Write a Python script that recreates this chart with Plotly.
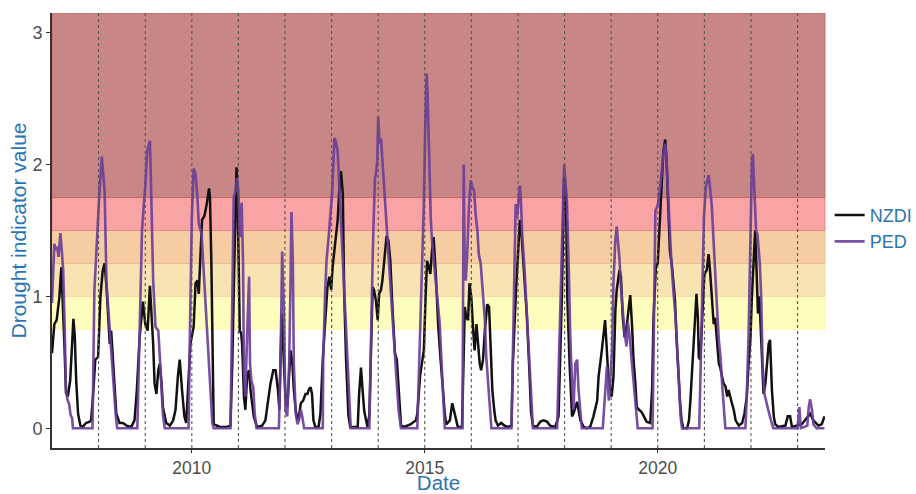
import numpy as np
import pandas as pd
import plotly.graph_objects as go

# ---------------- data (decimal years, indicator values) ----------------
nzdi_time = [
    2007.00, 2007.03, 2007.05, 2007.10, 2007.16, 2007.20, 2007.23, 2007.27, 2007.30, 2007.34,
    2007.39, 2007.43, 2007.46, 2007.49, 2007.52, 2007.56, 2007.61, 2007.66, 2007.73, 2007.81,
    2007.84, 2007.88, 2007.93, 2007.99, 2008.04, 2008.09, 2008.13, 2008.17, 2008.20, 2008.24,
    2008.27, 2008.31, 2008.38, 2008.45, 2008.52, 2008.60, 2008.70, 2008.77, 2008.82, 2008.88,
    2008.95, 2009.00, 2009.05, 2009.10, 2009.13, 2009.17, 2009.20, 2009.24, 2009.28, 2009.31,
    2009.35, 2009.38, 2009.45, 2009.53, 2009.60, 2009.65, 2009.70, 2009.74, 2009.79, 2009.84,
    2009.88, 2009.93, 2009.97, 2010.04, 2010.08, 2010.12, 2010.15, 2010.19, 2010.22, 2010.27,
    2010.32, 2010.37, 2010.39, 2010.42, 2010.44, 2010.47, 2010.60, 2010.75, 2010.83, 2010.87,
    2010.91, 2010.96, 2010.99, 2011.03, 2011.06, 2011.08, 2011.12, 2011.15, 2011.19, 2011.23,
    2011.26, 2011.30, 2011.33, 2011.40, 2011.51, 2011.58, 2011.63, 2011.69, 2011.75, 2011.80,
    2011.85, 2011.88, 2011.93, 2011.96, 2012.01, 2012.05, 2012.09, 2012.12, 2012.16, 2012.19,
    2012.23, 2012.27, 2012.30, 2012.34, 2012.39, 2012.44, 2012.48, 2012.52, 2012.55, 2012.58,
    2012.61, 2012.65, 2012.72, 2012.76, 2012.81, 2012.86, 2012.91, 2012.95, 2012.99, 2013.02,
    2013.08, 2013.13, 2013.16, 2013.20, 2013.24, 2013.27, 2013.31, 2013.36, 2013.40, 2013.56,
    2013.59, 2013.63, 2013.66, 2013.70, 2013.74, 2013.77, 2013.81, 2013.85, 2013.88, 2013.91,
    2013.95, 2013.99, 2014.02, 2014.06, 2014.09, 2014.13, 2014.18, 2014.22, 2014.26, 2014.31,
    2014.36, 2014.40, 2014.44, 2014.49, 2014.56, 2014.63, 2014.70, 2014.77, 2014.81, 2014.84,
    2014.90, 2014.95, 2014.98, 2015.02, 2015.05, 2015.09, 2015.12, 2015.16, 2015.19, 2015.24,
    2015.29, 2015.34, 2015.39, 2015.43, 2015.46, 2015.54, 2015.59, 2015.64, 2015.71, 2015.80,
    2015.84, 2015.86, 2015.89, 2015.93, 2015.96, 2016.00, 2016.04, 2016.07, 2016.11, 2016.14,
    2016.18, 2016.21, 2016.25, 2016.29, 2016.34, 2016.38, 2016.41, 2016.45, 2016.49, 2016.52,
    2016.57, 2016.64, 2016.71, 2016.79, 2016.86, 2016.89, 2016.96, 2017.00, 2017.04, 2017.07,
    2017.11, 2017.14, 2017.19, 2017.24, 2017.28, 2017.32, 2017.40, 2017.48, 2017.55, 2017.62,
    2017.69, 2017.80, 2017.87, 2017.94, 2017.99, 2018.03, 2018.06, 2018.11, 2018.16, 2018.19,
    2018.23, 2018.27, 2018.30, 2018.34, 2018.41, 2018.48, 2018.55, 2018.62, 2018.70, 2018.73,
    2018.80, 2018.87, 2018.90, 2018.94, 2018.98, 2019.01, 2019.05, 2019.09, 2019.12, 2019.18,
    2019.21, 2019.25, 2019.29, 2019.34, 2019.38, 2019.41, 2019.45, 2019.48, 2019.52, 2019.55,
    2019.60, 2019.66, 2019.76, 2019.84, 2019.88, 2019.91, 2019.96, 2020.00, 2020.04, 2020.09,
    2020.12, 2020.16, 2020.19, 2020.23, 2020.26, 2020.30, 2020.34, 2020.37, 2020.41, 2020.44,
    2020.48, 2020.51, 2020.55, 2020.63, 2020.67, 2020.70, 2020.74, 2020.77, 2020.81, 2020.83,
    2020.86, 2020.88, 2020.91, 2020.95, 2021.00, 2021.05, 2021.09, 2021.12, 2021.16, 2021.20,
    2021.23, 2021.27, 2021.31, 2021.34, 2021.38, 2021.41, 2021.45, 2021.49, 2021.52, 2021.56,
    2021.59, 2021.63, 2021.67, 2021.74, 2021.81, 2021.86, 2021.91, 2021.95, 2021.99, 2022.02,
    2022.06, 2022.09, 2022.12, 2022.15, 2022.18, 2022.21, 2022.27, 2022.31, 2022.34, 2022.38,
    2022.41, 2022.45, 2022.49, 2022.52, 2022.59, 2022.74, 2022.79, 2022.84, 2022.88, 2022.99,
    2023.09, 2023.16, 2023.27, 2023.34, 2023.45, 2023.52, 2023.58,
]
nzdi_value = [
    0.57, 0.72, 0.79, 0.82, 1.00, 1.22, 1.00, 0.60, 0.27, 0.24,
    0.36, 0.69, 0.83, 0.69, 0.36, 0.11, 0.02, 0.01, 0.04, 0.05,
    0.06, 0.24, 0.52, 0.54, 1.00, 1.20, 1.25, 1.07, 0.87, 0.64,
    0.74, 0.49, 0.11, 0.04, 0.04, 0.02, 0.01, 0.06, 0.29, 0.69,
    0.96, 0.79, 0.74, 1.08, 0.89, 0.64, 0.34, 0.26, 0.44, 0.49,
    0.34, 0.16, 0.04, 0.02, 0.06, 0.14, 0.39, 0.52, 0.29, 0.09,
    0.04, 0.40, 0.64, 0.77, 1.10, 1.12, 1.02, 1.35, 1.58, 1.61,
    1.70, 1.82, 1.75, 1.25, 0.74, 0.03, 0.01, 0.01, 0.02, 0.50,
    1.20, 1.98, 1.60, 0.74, 0.72, 0.64, 0.24, 0.14, 0.41, 0.44,
    0.29, 0.16, 0.09, 0.01, 0.02, 0.06, 0.19, 0.34, 0.44, 0.44,
    0.29, 0.14, 0.87, 0.60, 0.24, 0.16, 0.44, 0.59, 0.49, 0.29,
    0.14, 0.06, 0.09, 0.19, 0.21, 0.26, 0.26, 0.30, 0.31, 0.26,
    0.06, 0.01, 0.01, 0.11, 0.52, 0.77, 1.07, 1.15, 1.05, 1.22,
    1.42, 1.58, 1.78, 1.95, 1.78, 1.02, 0.52, 0.10, 0.01, 0.01,
    0.26, 0.46, 0.31, 0.13, 0.06, 0.01, 0.10, 0.60, 1.07, 1.05,
    0.97, 0.82, 1.02, 1.05, 1.12, 1.27, 1.46, 1.42, 1.27, 0.89,
    0.57, 0.52, 0.26, 0.02, 0.01, 0.02, 0.03, 0.05, 0.06, 0.11,
    0.40, 0.52, 0.59, 1.02, 1.27, 1.22, 1.17, 1.37, 1.45, 1.15,
    0.77, 0.52, 0.26, 0.11, 0.03, 0.06, 0.19, 0.12, 0.01, 0.01,
    0.50, 0.92, 0.84, 0.82, 1.10, 0.99, 0.74, 0.59, 0.79, 0.64,
    0.49, 0.44, 0.52, 0.74, 0.94, 0.92, 0.62, 0.29, 0.14, 0.06,
    0.02, 0.04, 0.02, 0.01, 0.02, 0.49, 1.07, 1.37, 1.58, 1.50,
    1.30, 1.15, 0.85, 0.47, 0.12, 0.02, 0.01, 0.05, 0.06, 0.05,
    0.02, 0.01, 0.09, 0.97, 1.90, 1.73, 0.97, 0.47, 0.09, 0.11,
    0.16, 0.20, 0.14, 0.06, 0.01, 0.00, 0.01, 0.09, 0.21, 0.39,
    0.59, 0.82, 0.64, 0.39, 0.31, 0.24, 0.39, 0.89, 1.05, 1.20,
    1.15, 0.84, 0.69, 0.79, 0.92, 1.01, 0.77, 0.52, 0.34, 0.16,
    0.14, 0.12, 0.05, 0.04, 0.30, 0.84, 1.22, 1.25, 1.53, 1.90,
    2.10, 2.19, 2.03, 1.65, 1.35, 1.25, 1.05, 0.97, 0.64, 0.39,
    0.19, 0.06, 0.00, 0.00, 0.06, 0.21, 0.47, 0.67, 0.90, 1.02,
    0.84, 0.54, 0.52, 0.87, 1.17, 1.20, 1.32, 1.20, 0.99, 0.79,
    0.84, 0.69, 0.49, 0.46, 0.40, 0.34, 0.32, 0.24, 0.29, 0.22,
    0.19, 0.14, 0.06, 0.02, 0.04, 0.11, 0.24, 0.49, 0.69, 1.00,
    1.30, 1.50, 1.20, 0.87, 1.00, 0.74, 0.26, 0.34, 0.49, 0.64,
    0.67, 0.29, 0.09, 0.03, 0.01, 0.02, 0.09, 0.09, 0.01, 0.02,
    0.03, 0.06, 0.11, 0.06, 0.02, 0.03, 0.09,
]

ped_time = [
    2007.00, 2007.03, 2007.05, 2007.08, 2007.11, 2007.14, 2007.18, 2007.21, 2007.24, 2007.27,
    2007.30, 2007.33, 2007.37, 2007.40, 2007.43, 2007.45, 2007.87, 2007.91, 2007.96, 2008.02,
    2008.07, 2008.10, 2008.13, 2008.17, 2008.24, 2008.30, 2008.37, 2008.40, 2008.83, 2008.88,
    2008.93, 2008.97, 2009.00, 2009.04, 2009.10, 2009.13, 2009.17, 2009.22, 2009.28, 2009.32,
    2009.38, 2009.42, 2009.93, 2009.96, 2010.00, 2010.04, 2010.08, 2010.12, 2010.15, 2010.19,
    2010.21, 2010.27, 2010.33, 2010.39, 2010.44, 2010.47, 2010.83, 2010.87, 2010.90, 2010.94,
    2010.97, 2011.00, 2011.03, 2011.07, 2011.10, 2011.12, 2011.15, 2011.19, 2011.23, 2011.25,
    2011.28, 2011.32, 2011.35, 2011.39, 2011.87, 2011.91, 2011.94, 2011.98, 2012.01, 2012.05,
    2012.09, 2012.12, 2012.14, 2012.17, 2012.19, 2012.23, 2012.27, 2012.30, 2012.34, 2012.37,
    2012.41, 2012.81, 2012.82, 2012.86, 2012.89, 2012.94, 2012.97, 2013.01, 2013.04, 2013.06,
    2013.09, 2013.13, 2013.15, 2013.18, 2013.21, 2013.24, 2013.27, 2013.31, 2013.34, 2013.38,
    2013.41, 2013.81, 2013.84, 2013.88, 2013.90, 2013.93, 2013.95, 2013.98, 2014.00, 2014.03,
    2014.06, 2014.09, 2014.13, 2014.16, 2014.20, 2014.24, 2014.27, 2014.31, 2014.36, 2014.39,
    2014.44, 2014.49, 2014.84, 2014.88, 2014.91, 2014.95, 2014.98, 2015.01, 2015.04, 2015.06,
    2015.09, 2015.13, 2015.16, 2015.22, 2015.27, 2015.32, 2015.36, 2015.40, 2015.43, 2015.81,
    2015.836, 2015.857, 2015.88, 2015.91, 2015.95, 2015.99, 2016.02, 2016.06, 2016.09, 2016.13,
    2016.16, 2016.20, 2016.24, 2016.29, 2016.32, 2016.36, 2016.39, 2016.43, 2016.86, 2016.93,
    2016.95, 2016.98, 2017.01, 2017.04, 2017.06, 2017.09, 2017.14, 2017.19, 2017.24, 2017.29,
    2017.32, 2017.84, 2017.91, 2017.96, 2017.99, 2018.02, 2018.05, 2018.09, 2018.12, 2018.16,
    2018.19, 2018.23, 2018.27, 2018.30, 2018.34, 2018.37, 2018.82, 2018.87, 2018.91, 2018.95,
    2018.98, 2019.02, 2019.05, 2019.09, 2019.12, 2019.15, 2019.18, 2019.21, 2019.25, 2019.29,
    2019.33, 2019.36, 2019.39, 2019.43, 2019.47, 2019.51, 2019.55, 2019.57, 2019.89, 2019.91,
    2019.95, 2019.99, 2020.02, 2020.06, 2020.09, 2020.13, 2020.16, 2020.19, 2020.215, 2020.25,
    2020.29, 2020.33, 2020.38, 2020.42, 2020.45, 2020.49, 2020.52, 2020.89, 2020.92, 2020.95,
    2020.99, 2021.03, 2021.06, 2021.09, 2021.12, 2021.16, 2021.20, 2021.24, 2021.27, 2021.31,
    2021.35, 2021.38, 2021.42, 2021.45, 2021.88, 2021.91, 2021.95, 2021.99, 2022.02, 2022.04,
    2022.08, 2022.11, 2022.14, 2022.19, 2022.22, 2022.25, 2022.29, 2022.32, 2022.37, 2022.43,
    2022.48, 2023.00, 2023.04, 2023.07, 2023.21, 2023.24, 2023.27, 2023.31, 2023.34, 2023.41,
    2023.58,
]
ped_value = [
    0.95, 1.25, 1.40, 1.35, 1.38, 1.30, 1.48, 1.35, 1.20, 0.80,
    0.30, 0.22, 0.18, 0.10, 0.08, 0.00, 0.00, 1.04, 1.40, 1.80,
    2.06, 1.95, 1.80, 1.10, 0.72, 0.47, 0.09, 0.00, 0.00, 0.74,
    1.50, 1.70, 1.83, 2.10, 2.18, 1.75, 1.12, 0.77, 0.74, 0.50,
    0.10, 0.00, 0.00, 0.74, 1.60, 1.97, 1.93, 1.75, 1.55, 1.50,
    1.47, 1.10, 0.75, 0.40, 0.04, 0.00, 0.00, 1.00, 1.75, 1.80,
    1.90, 1.80, 1.45, 1.71, 1.25, 0.44, 0.24, 0.74, 1.15, 0.49,
    0.36, 0.31, 0.11, 0.00, 0.00, 0.60, 1.34, 0.87, 0.14, 0.09,
    0.49, 1.12, 1.64, 1.25, 0.49, 0.11, 0.03, 0.06, 0.14, 0.09,
    0.00, 0.00, 0.52, 1.02, 1.27, 1.47, 1.58, 1.78, 2.03, 2.20,
    2.18, 2.10, 1.95, 1.73, 1.50, 1.27, 1.02, 0.77, 0.52, 0.26,
    0.00, 0.00, 0.64, 1.27, 1.55, 1.90, 1.92, 2.03, 2.36, 2.16,
    2.20, 2.03, 1.78, 1.65, 1.40, 1.22, 1.02, 0.82, 0.52, 0.39,
    0.13, 0.00, 0.00, 0.52, 0.89, 1.27, 1.70, 2.28, 2.69, 2.54,
    2.03, 1.58, 1.40, 1.15, 0.97, 0.80, 0.50, 0.24, 0.00, 0.00,
    2.00, 1.32, 1.12, 1.30, 1.70, 1.88, 1.83, 1.80, 1.63, 1.50,
    1.32, 1.25, 1.05, 0.82, 0.54, 0.36, 0.19, 0.00, 0.00, 1.25,
    1.70, 1.60, 1.75, 1.84, 1.75, 1.47, 1.20, 0.87, 0.49, 0.11,
    0.00, 0.00, 0.97, 1.73, 2.00, 1.86, 1.73, 1.22, 0.72, 0.34,
    0.14, 0.49, 0.52, 0.29, 0.09, 0.00, 0.00, 0.26, 0.47, 0.21,
    0.40, 0.59, 1.10, 1.43, 1.53, 1.43, 1.28, 1.07, 0.87, 0.72,
    0.62, 0.80, 0.72, 0.55, 0.39, 0.21, 0.05, 0.00, 0.00, 0.72,
    1.65, 1.68, 1.73, 1.86, 1.98, 2.11, 2.16, 2.03, 1.83, 1.53,
    1.28, 1.07, 0.85, 0.59, 0.34, 0.09, 0.00, 0.00, 0.47, 0.97,
    1.60, 1.83, 1.88, 1.92, 1.83, 1.68, 1.40, 1.17, 0.92, 0.67,
    0.52, 0.34, 0.18, 0.00, 0.00, 0.24, 0.74, 1.50, 2.00, 2.08,
    1.80, 1.50, 1.47, 1.25, 0.99, 0.49, 0.26, 0.21, 0.14, 0.06,
    0.00, 0.00, 0.16, 0.00, 0.02, 0.16, 0.22, 0.14, 0.03, 0.00,
    0.00,
]

# drought category bands (lower, upper, fill, edge)
band_lower = [0.75, 1.00, 1.25, 1.50, 1.75]
band_upper = [1.00, 1.25, 1.50, 1.75, 3.15]
band_fill = ["#FFFDBE", "#F8E3B2", "#F6CCA2", "#F9A4A4", "#C88686"]
band_edge = ["#FFF3A8", "#F0D6A0", "#EDB58C", "#E07A7A", "#C06060"]

year_lines = list(range(2008, 2024))
tick_years = [2010, 2015, 2020]
tick_labels = ["2010", "2015", "2020"]
x_limits = [2007.0, 2023.59]
y_limits = [-0.15, 3.15]


def to_date(y):
    yr = int(np.floor(y))
    start = pd.Timestamp(year=yr, month=1, day=1)
    end = pd.Timestamp(year=yr + 1, month=1, day=1)
    return start + (end - start) * (y - yr)


nzdi_dates = [to_date(t) for t in nzdi_time]
ped_dates = [to_date(t) for t in ped_time]

blue = "#2B73B3"
fig = go.Figure()

fig.add_trace(go.Scatter(x=nzdi_dates, y=nzdi_value, mode="lines", name="NZDI",
                         line=dict(color="#111111", width=2.5)))
fig.add_trace(go.Scatter(x=ped_dates, y=ped_value, mode="lines", name="PED",
                         line=dict(color="#6A3D9A", width=2.6), opacity=0.9))

for lo, hi, fc, ec in zip(band_lower, band_upper, band_fill, band_edge):
    fig.add_shape(type="rect", xref="paper", yref="y", x0=0, x1=1, y0=lo, y1=hi,
                  fillcolor=fc, line=dict(color=ec, width=0.8), layer="below")

for yv in year_lines:
    d = to_date(yv)
    fig.add_shape(type="line", xref="x", yref="paper", x0=d, x1=d, y0=0, y1=1,
                  line=dict(color="#555555", width=1.1, dash="dot"), layer="above")

fig.update_layout(
    width=916, height=494,
    margin=dict(l=52, r=91, t=13, b=46, autoexpand=False),
    paper_bgcolor="white", plot_bgcolor="white",
    font=dict(family="Liberation Sans, Arial, sans-serif", color="#4D4D4D"),
    showlegend=True,
    legend=dict(x=1.006, y=0.505, xanchor="left", yanchor="middle",
                font=dict(size=18, color=blue), bgcolor="rgba(0,0,0,0)",
                tracegroupgap=0),
)

fig.update_xaxes(
    type="date", automargin=False,
    range=[to_date(x_limits[0]), to_date(x_limits[1])],
    tickvals=[to_date(y) for y in tick_years], ticktext=tick_labels,
    showgrid=False, zeroline=False,
    showline=True, linecolor="#333333", linewidth=2,
    ticks="outside", ticklen=3, tickcolor="#333333", tickwidth=1.2,
    tickfont=dict(size=17.5, color="#4D4D4D"),
    title=dict(text="Date", font=dict(size=20.5, color=blue), standoff=10),
)
fig.update_yaxes(
    automargin=False,
    range=y_limits,
    tickvals=[0, 1, 2, 3], ticktext=["0", "1", "2", "3"],
    showgrid=False, zeroline=False,
    showline=True, linecolor="#333333", linewidth=2,
    ticks="outside", ticklen=4, tickcolor="#333333", tickwidth=1.2,
    tickfont=dict(size=18, color="#4D4D4D"),
    title=dict(text="Drought indicator value", font=dict(size=21, color=blue), standoff=0),
)

fig.write_html("out.html", config={"displayModeBar": False},
               post_script="document.body.style.margin='0';document.body.style.overflow='hidden';")
